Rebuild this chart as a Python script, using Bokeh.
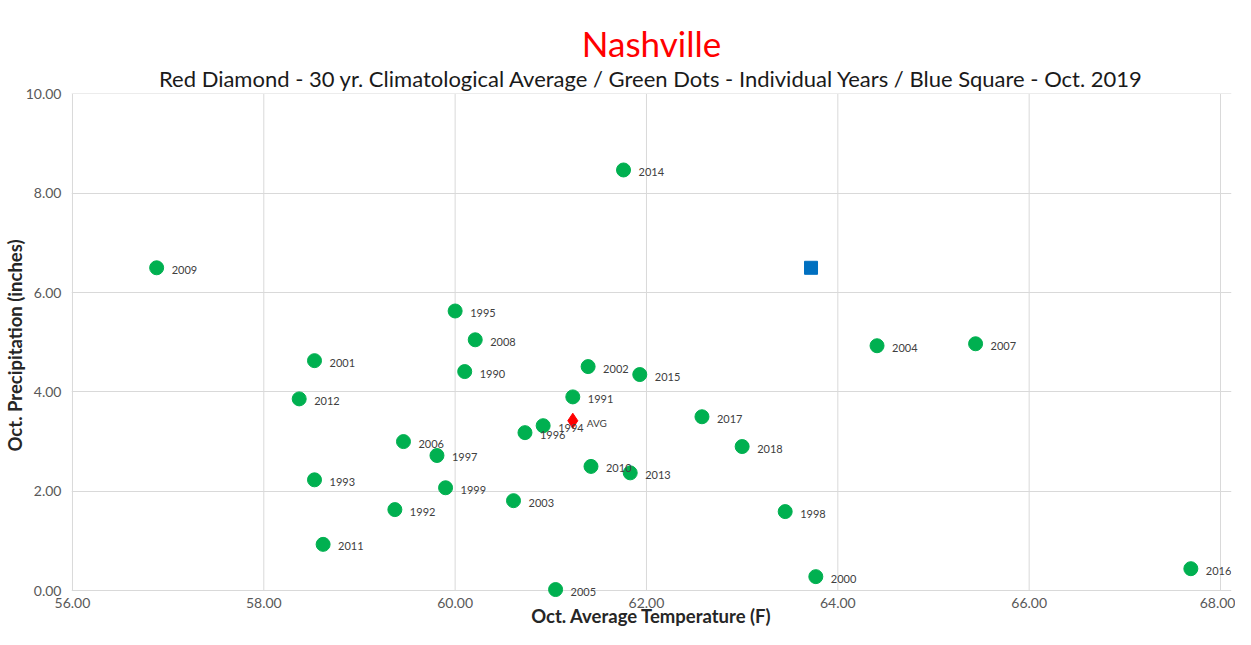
from bokeh.plotting import figure
from bokeh.models import ColumnDataSource, Title, FixedTicker, NumeralTickFormatter, Range1d, Label
from bokeh.embed import file_html
from bokeh.resources import INLINE

# Individual years
years = ["2009", "2014", "1995", "2008", "2001", "1990", "2002", "2015", "2004", "2007",
         "2012", "1991", "1994", "1996", "2017", "2006", "1997", "2018", "2010", "2013",
         "1993", "1999", "2003", "1992", "1998", "2011", "2005", "2000", "2016"]
temps = [56.88, 61.76, 60.00, 60.21, 58.53, 60.10, 61.39, 61.93, 64.41, 65.44,
         58.37, 61.23, 60.92, 60.73, 62.58, 59.46, 59.81, 63.00, 61.42, 61.83,
         58.53, 59.90, 60.61, 59.37, 63.45, 58.62, 61.05, 63.77, 67.69]
precip = [6.50, 8.47, 5.63, 5.05, 4.63, 4.41, 4.51, 4.35, 4.93, 4.97,
          3.86, 3.90, 3.32, 3.18, 3.50, 3.00, 2.72, 2.90, 2.50, 2.37,
          2.23, 2.07, 1.81, 1.63, 1.59, 0.93, 0.02, 0.28, 0.44]

# 30-yr climatological average
avg_label = ["AVG"]
avg_temp = [61.23]
avg_precip = [3.42]

# October 2019
oct2019_temp = [63.72]
oct2019_precip = [6.50]

x_ticks = [56, 58, 60, 62, 64, 66, 68]
y_ticks = [0, 2, 4, 6, 8, 10]

FONT = "Lato"
GRID = "#d9d9d9"

# ranges run a hair past the outer ticks so edge labels/markers are not cut
p = figure(width=1235, height=629, output_backend="svg", toolbar_location=None,
           x_range=Range1d(x_ticks[0] - 0.01, x_ticks[-1] + 0.115),
           y_range=Range1d(y_ticks[0] - 0.14, y_ticks[-1] + 0.01),
           min_border_left=0, min_border_right=4, min_border_bottom=0, min_border_top=93)
p.title = None

sub = Title(text="Red Diamond - 30 yr. Climatological Average / Green Dots - Individual Years / Blue Square - Oct. 2019",
            align="center", text_font=FONT, text_font_size="22px", text_font_style="normal",
            text_color="#1a1a1a", standoff=4)
main = Title(text="Nashville", align="center", text_font=FONT, text_font_size="35px",
             text_font_style="normal", text_color="#ff0000", standoff=-6)
p.add_layout(sub, "above")
p.add_layout(main, "above")

p.outline_line_color = None
p.background_fill_color = "white"
p.border_fill_color = "white"

for ax in (p.xaxis, p.yaxis):
    ax.axis_line_color = None
    ax.major_tick_line_color = None
    ax.minor_tick_line_color = None
    ax.major_tick_out = 0
    ax.major_tick_in = 0
    ax.minor_tick_out = 0
    ax.minor_tick_in = 0
    ax.major_label_text_font = FONT
    ax.major_label_text_font_size = "14px"
    ax.major_label_text_color = "#595959"
    ax.axis_label_text_font = FONT
    ax.axis_label_text_font_size = "18.5px"
    ax.axis_label_text_font_style = "bold"
    ax.axis_label_text_color = "#262626"
    ax.formatter = NumeralTickFormatter(format="0.00")

p.xaxis.ticker = FixedTicker(ticks=x_ticks)
p.yaxis.ticker = FixedTicker(ticks=y_ticks)
p.xaxis.axis_label = "Oct. Average Temperature (F)"
p.yaxis.axis_label = "Oct. Precipitation (inches)"
p.xaxis.major_label_standoff = 0
p.xaxis.axis_label_standoff = -6
p.yaxis.major_label_standoff = 10
p.yaxis.axis_label_standoff = -3

# horizontal grid from the axis; vertical grid lines drawn from the x ticks over 0..10 only
p.xgrid.visible = False
p.ygrid.grid_line_color = GRID
p.segment(x0=x_ticks, y0=[y_ticks[0]] * len(x_ticks), x1=x_ticks, y1=[y_ticks[-1]] * len(x_ticks),
          line_color=GRID, line_width=1)

src = ColumnDataSource(dict(x=temps, y=precip, label=years))
p.scatter("x", "y", source=src, size=14, color="#00b050", marker="circle")
for t, pr, yr in zip(temps, precip, years):
    p.add_layout(Label(x=t, y=pr, text=yr, x_offset=15, y_offset=-2,
                       text_font=FONT, text_font_size="11px", text_color="#404040",
                       text_baseline="middle", text_align="left"))

asrc = ColumnDataSource(dict(x=avg_temp, y=avg_precip, label=avg_label))
p.scatter("x", "y", source=asrc, size=15, color="#ff0000", marker="diamond")
for t, pr, lb in zip(avg_temp, avg_precip, avg_label):
    p.add_layout(Label(x=t, y=pr, text=lb, x_offset=14, y_offset=-2,
                       text_font=FONT, text_font_size="10px", text_color="#404040",
                       text_baseline="middle", text_align="left"))

bsrc = ColumnDataSource(dict(x=oct2019_temp, y=oct2019_precip))
p.scatter("x", "y", source=bsrc, size=13, color="#0070c0", marker="square")

open("out.html", "w").write(file_html(p, INLINE))
